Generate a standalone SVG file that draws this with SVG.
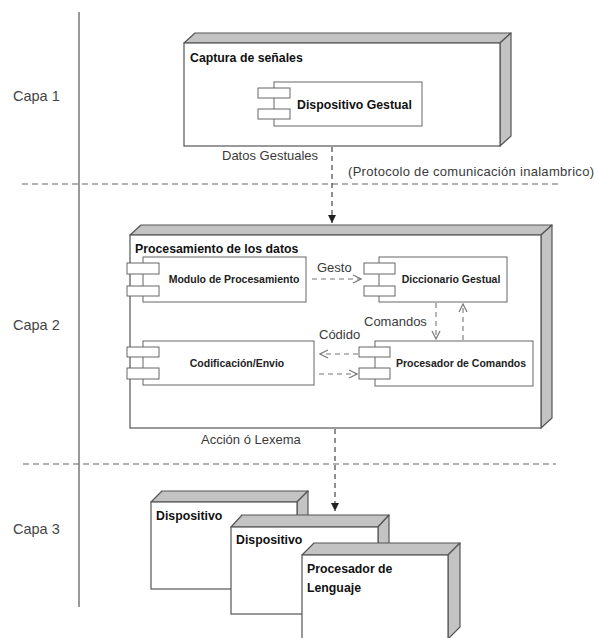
<svg xmlns="http://www.w3.org/2000/svg" width="595" height="638" viewBox="0 0 595 638">
<defs>
<style>
.front{fill:#fff;stroke:#555;stroke-width:1.2}
.side{fill:#c3c3c3;stroke:#555;stroke-width:1.2;stroke-linejoin:round}
.comp{fill:#fff;stroke:#666;stroke-width:1}
.title{font-family:"Liberation Sans",Arial,sans-serif;font-weight:bold;font-size:12.3px;fill:#111}
.ctext{font-family:"Liberation Sans",Arial,sans-serif;font-weight:bold;font-size:10.5px;fill:#222}
.lbl{font-family:"Liberation Sans",Arial,sans-serif;font-size:13px;fill:#3a3a3a}
.layer{font-family:"Liberation Sans",Arial,sans-serif;font-size:14.5px;fill:#444}
.sep{stroke:#666;stroke-width:1.2;stroke-dasharray:6,4;fill:none}
.dep{stroke:#333;stroke-width:1.1;stroke-dasharray:5,4;fill:none}
.idep{stroke:#777;stroke-width:1.1;stroke-dasharray:5,4;fill:none}
</style>
<marker id="fill" viewBox="0 0 10 10" refX="10" refY="5" markerWidth="8" markerHeight="8" markerUnits="userSpaceOnUse" orient="auto">
<path d="M0,0 L10,5 L0,10 z" fill="#222"/>
</marker>
<marker id="open" viewBox="0 0 10 10" refX="9" refY="5" markerWidth="10" markerHeight="10" markerUnits="userSpaceOnUse" orient="auto">
<path d="M1,1 L9,5 L1,9" fill="none" stroke="#777" stroke-width="1.2"/>
</marker>
</defs>
<rect width="595" height="638" fill="#fff"/>

<g id="layers">
<line x1="79" y1="12" x2="79" y2="607" stroke="#555" stroke-width="1.2"/>
<line class="sep" x1="22" y1="184" x2="558" y2="184"/>
<line class="sep" x1="23" y1="464" x2="556" y2="464"/>
<text class="layer" x="13" y="101">Capa 1</text>
<text class="layer" x="13" y="330">Capa 2</text>
<text class="layer" x="13" y="534">Capa 3</text>
</g>

<g id="captura">
<polygon class="side" points="184,43 195,33 511,33 500,43"/>
<polygon class="side" points="500,43 511,33 511,136 500,146"/>
<rect class="front" x="184" y="43" width="316" height="103"/>
<text class="title" x="190" y="62">Captura de señales</text>
</g>
<g id="dispositivo-gestual">
<rect class="comp" x="274" y="82" width="148" height="44"/>
<rect class="comp" x="258" y="88" width="32" height="10"/>
<rect class="comp" x="258" y="109" width="32" height="10"/>
<text class="title" x="297" y="108.5">Dispositivo Gestual</text>
</g>

<g id="procesamiento">
<polygon class="side" points="130,235 141,225 552,225 541,235"/>
<polygon class="side" points="541,235 552,225 552,418 541,428"/>
<rect class="front" x="130" y="235" width="411" height="193"/>
<text class="title" x="135" y="252.5">Procesamiento de los datos</text>
</g>
<g id="modulo">
<rect class="comp" x="143" y="257" width="163" height="45"/>
<rect class="comp" x="127" y="263" width="32" height="11"/>
<rect class="comp" x="127" y="286" width="32" height="10"/>
<text class="ctext" x="234" y="283" text-anchor="middle">Modulo de Procesamiento</text>
</g>
<g id="diccionario">
<rect class="comp" x="379" y="257" width="128" height="45"/>
<rect class="comp" x="364" y="263" width="31" height="11"/>
<rect class="comp" x="364" y="286" width="31" height="10"/>
<text class="ctext" x="451" y="283" text-anchor="middle">Diccionario Gestual</text>
</g>
<g id="codificacion">
<rect class="comp" x="143" y="341" width="171" height="44"/>
<rect class="comp" x="127" y="347" width="32" height="10"/>
<rect class="comp" x="127" y="368" width="32" height="11"/>
<text class="ctext" x="237" y="367" text-anchor="middle">Codificación/Envio</text>
</g>
<g id="procesador-comandos">
<rect class="comp" x="375" y="341" width="158" height="45"/>
<rect class="comp" x="359" y="347" width="31" height="10"/>
<rect class="comp" x="359" y="368" width="31" height="11"/>
<text class="ctext" x="461" y="367" text-anchor="middle">Procesador de Comandos</text>
</g>

<g id="dispositivo-1">
<polygon class="side" points="151,502 162,491 308,491 297,502"/>
<polygon class="side" points="297,502 308,491 308,578 297,589"/>
<rect class="front" x="151" y="502" width="146" height="87"/>
<text class="title" x="156" y="520">Dispositivo</text>
</g>
<g id="dispositivo-2">
<polygon class="side" points="231,527 242,515 389,515 378,527"/>
<polygon class="side" points="378,527 389,515 389,602 378,614"/>
<rect class="front" x="231" y="527" width="147" height="87"/>
<text class="title" x="236" y="544">Dispositivo</text>
</g>
<g id="procesador-lenguaje">
<polygon class="side" points="302,555 314,543 460,543 448,555"/>
<polygon class="side" points="448,555 460,543 460,627 448,639"/>
<rect class="front" x="302" y="555" width="146" height="90"/>
<text class="title" x="307" y="573">Procesador de</text>
<text class="title" x="307" y="592">Lenguaje</text>
</g>

<g id="connectors">
<line class="dep" x1="332" y1="147" x2="332" y2="223" marker-end="url(#fill)"/>
<text class="lbl" x="222" y="160">Datos Gestuales</text>
<text class="lbl" x="348" y="176" textLength="246">(Protocolo de comunicación inalambrico)</text>
<line class="idep" x1="312" y1="279" x2="361" y2="279" marker-end="url(#open)"/>
<text class="lbl" x="317" y="272">Gesto</text>
<line class="idep" x1="436" y1="303" x2="436" y2="339" marker-end="url(#open)"/>
<line class="idep" x1="463" y1="340" x2="463" y2="304" marker-end="url(#open)"/>
<text class="lbl" x="364" y="326">Comandos</text>
<line class="idep" x1="358" y1="354" x2="320" y2="354" marker-end="url(#open)"/>
<line class="idep" x1="319" y1="374" x2="357" y2="374" marker-end="url(#open)"/>
<text class="lbl" x="319" y="339">Códido</text>
<line class="dep" x1="335" y1="429" x2="335" y2="511" marker-end="url(#fill)"/>
<text class="lbl" x="201" y="444">Acción ó Lexema</text>
</g>
</svg>
